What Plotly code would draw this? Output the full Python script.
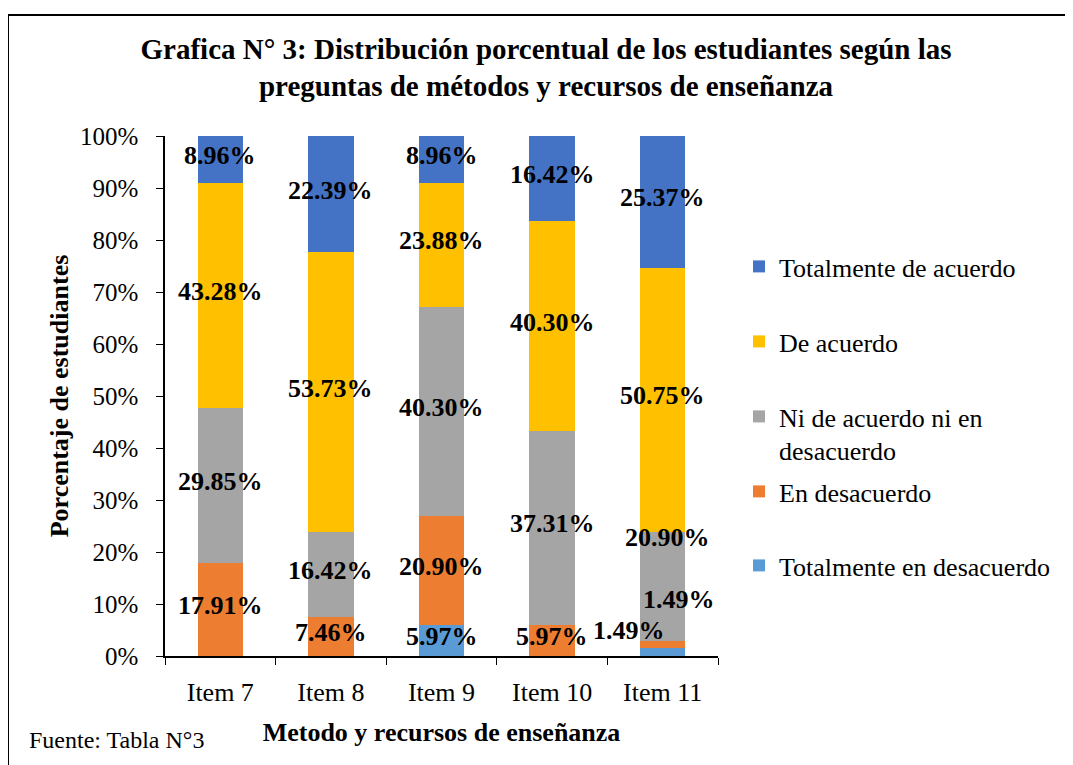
import plotly.graph_objects as go

# datos (porcentajes)
items = ["Item 7", "Item 8", "Item 9", "Item 10", "Item 11"]
tot_desacuerdo = [0, 0, 5.97, 0, 1.49]
en_desacuerdo = [17.91, 7.46, 20.90, 5.97, 1.49]
ni_ni = [29.85, 16.42, 40.30, 37.31, 20.90]
de_acuerdo = [43.28, 53.73, 23.88, 40.30, 50.75]
tot_acuerdo = [8.96, 22.39, 8.96, 16.42, 25.37]
y_ticks = [0, 10, 20, 30, 40, 50, 60, 70, 80, 90, 100]

# orden de apilado (abajo -> arriba)
series = [
    ("Totalmente en desacuerdo", tot_desacuerdo, "#5B9BD5"),
    ("En desacuerdo", en_desacuerdo, "#ED7D31"),
    ("Ni de acuerdo ni en<br>desacuerdo", ni_ni, "#A5A5A5"),
    ("De acuerdo", de_acuerdo, "#FFC000"),
    ("Totalmente de acuerdo", tot_acuerdo, "#4472C4"),
]

FONT = "Times New Roman, Liberation Serif, serif"
OFF = 8  # margen del body de la pagina
W, H = 1073 - OFF, 765 - OFF
# area de trazado en pixeles de pantalla
L, R, T, B = 165, 718, 136, 656


def px_x(p):
    return (p - L) / (R - L)


def px_y(p):
    return (B - p) / (B - T)


fig = go.Figure()

# centro del texto de cada leyenda (px de pantalla)
legend_y = {
    "Totalmente de acuerdo": 268,
    "De acuerdo": 343,
    "Ni de acuerdo ni en<br>desacuerdo": 418,
    "En desacuerdo": 493,
    "Totalmente en desacuerdo": 567,
}

for i, (name, vals, color) in enumerate(series):
    fig.add_trace(go.Bar(
        x=items, y=vals, name=name,
        marker=dict(color=color, line=dict(width=0)),
        legend="legend" if i == 0 else f"legend{i + 1}",
        hoverinfo="skip",
    ))

# etiquetas de datos (centradas en cada segmento, algunas desplazadas a mano)
offsets = {
    ("Item 11", 0): (-34, 22),
    ("Item 11", 1): (16, 45),
    ("Item 11", 2): (5, 49),
}
base = [0] * len(items)
annotations = []
for si, (name, vals, color) in enumerate(series):
    for k, v in enumerate(vals):
        if v > 0:
            dx, dy = offsets.get((items[k], si), (0, 4))
            annotations.append(dict(
                x=items[k], y=base[k] + v / 2, xref="x", yref="y",
                text=f"{v:.2f}%", showarrow=False,
                xshift=dx, yshift=dy,
                font=dict(family=FONT, size=26, color="black", weight="bold"),
            ))
        base[k] += v

annotations.append(dict(
    x=px_x(27), y=px_y(740), xref="paper", yref="paper",
    xanchor="left", yanchor="middle", showarrow=False,
    text="Fuente: Tabla N°3",
    font=dict(family=FONT, size=24, color="black"),
))

layout_legends = {}
for i, (name, vals, color) in enumerate(series):
    key = "legend" if i == 0 else f"legend{i + 1}"
    layout_legends[key] = dict(
        x=px_x(739), y=px_y(legend_y[name] - 25),
        xanchor="left", yanchor="top", valign="top",
        font=dict(family=FONT, size=26, color="black"),
        bgcolor="rgba(0,0,0,0)",
    )

fig.update_layout(
    barmode="stack",
    bargap=0.59,
    width=W, height=H,
    margin=dict(l=L - OFF, r=W + OFF - R, t=T - OFF, b=H + OFF - B,
                autoexpand=False),
    paper_bgcolor="white",
    plot_bgcolor="white",
    font=dict(family=FONT, color="black"),
    title=dict(
        text="Grafica N° 3: Distribución porcentual de los estudiantes según las<br>"
             "preguntas de métodos y recursos de enseñanza",
        x=(546 - OFF) / W, xanchor="center", xref="container",
        y=1 - (48.5 - OFF + 10) / H, yanchor="top", yref="container",
        font=dict(family=FONT, size=29, color="black", weight="bold"),
    ),
    xaxis=dict(
        showline=True, linecolor="black", linewidth=1.5,
        ticks="outside", tickson="boundaries", ticklen=7, tickcolor="black",
        tickfont=dict(family=FONT, size=26, color="black"),
        ticklabelstandoff=12,
        title=dict(text="Metodo y recursos de enseñanza", standoff=17,
                   font=dict(family=FONT, size=26, color="black", weight="bold")),
        showgrid=False,
    ),
    yaxis=dict(
        range=[0, 100], tickmode="array", tickvals=y_ticks,
        ticktext=[f"{v}%" for v in y_ticks],
        showline=True, linecolor="black", linewidth=1.5,
        ticks="outside", ticklen=7, tickcolor="black",
        tickfont=dict(family=FONT, size=25, color="black"),
        ticklabelstandoff=13,
        title=dict(text="Porcentaje de estudiantes", standoff=4,
                   font=dict(family=FONT, size=26, color="black", weight="bold")),
        showgrid=False, zeroline=False,
    ),
    annotations=annotations,
    shapes=[dict(
        type="rect", xref="paper", yref="paper",
        x0=px_x(8), x1=px_x(1090), y0=px_y(790), y1=px_y(15),
        line=dict(color="black", width=2), fillcolor="rgba(0,0,0,0)",
        layer="below",
    )],
    showlegend=True,
    **layout_legends,
)

fig.write_html("out.html")
